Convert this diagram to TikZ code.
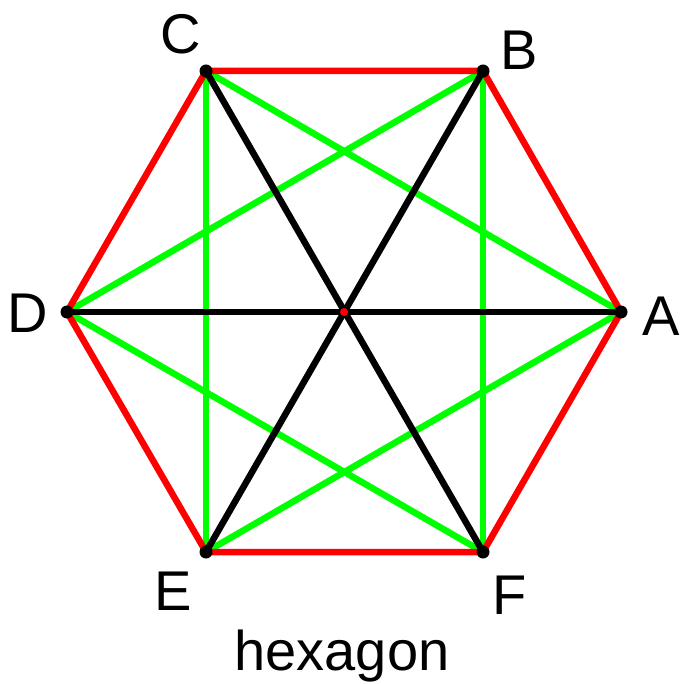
\documentclass[tikz,border=0pt]{standalone}
\usepackage{fontspec}
\setmainfont{Liberation Sans}
\begin{document}
\begin{tikzpicture}[x=1pt,y=-1pt,
  edge/.style={line width=6.5pt,draw=red},
  diag/.style={line width=6.5pt,draw=green},
  long/.style={line width=6.5pt,draw=black},
  vdot/.style={circle,fill=black,inner sep=0pt,minimum size=13pt},
  cdot/.style={circle,fill=red,inner sep=0pt,minimum size=8pt},
  lab/.style={anchor=base,inner sep=0pt,font=\fontsize{56}{60}\selectfont}]
\useasboundingbox (0,0) rectangle (681,684);
\coordinate (A) at (621,312);
\coordinate (B) at (483,71);
\coordinate (C) at (206,71);
\coordinate (D) at (67,312);
\coordinate (E) at (206,552);
\coordinate (F) at (483,552);
\coordinate (O) at (344,312);
% green short diagonals
\draw[diag] (C) -- (A);
\draw[diag] (C) -- (E);
\draw[diag] (B) -- (D);
\draw[diag] (B) -- (F);
\draw[diag] (D) -- (F);
\draw[diag] (E) -- (A);
% red hexagon
\draw[edge,line join=round] (A) -- (B) -- (C) -- (D) -- (E) -- (F) -- cycle;
% black long diagonals
\draw[long] (A) -- (D);
\draw[long] (B) -- (E);
\draw[long] (C) -- (F);
% dots
\foreach \p in {A,B,C,D,E,F} \node[vdot] (d\p) at (\p) {};
\node[cdot] (dO) at (O) {};
% labels
\node[lab] (lA) at (661,335) {A};
\node[lab] (lB) at (519,70) {B};
\node[lab] (lC) at (181,54) {C};
\node[lab] (lD) at (28,332) {D};
\node[lab] (lE) at (173,610) {E};
\node[lab] (lF) at (510,614) {F};
\node[lab] (title) at (342,670) {hexagon};
\end{tikzpicture}
\end{document}
